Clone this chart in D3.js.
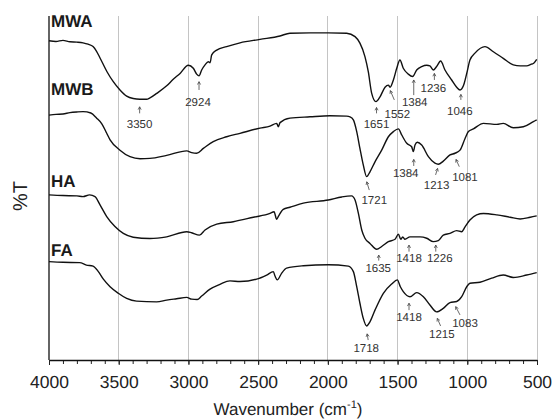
<!DOCTYPE html>
<html>
<head>
<meta charset="utf-8">
<script src="https://cdn.jsdelivr.net/npm/d3@7"></script>
<style>
  html, body { margin: 0; padding: 0; background: #fff; }
  svg { display: block; font-family: "Liberation Sans", Arial, sans-serif; }
  svg text { -webkit-font-smoothing: antialiased; text-rendering: geometricPrecision; }
</style>
</head>
<body>
<svg id="chart" width="553" height="420"></svg>
<script>
// FTIR spectra (offset %T) of four samples
const seriesNames = ["MWA", "MWB", "HA", "FA"];

const mwaWn = [4000,3950,3900,3850,3800,3756,3720,3684,3660,3634,3584,3539,3491,3443,3396,3348,3300,3276,3228,3156,3109,3060,3001,2965,2941,2924,2905,2881,2857,2845,2833,2797,2726,2630,2487,2343,2272,2128,1997,1865,1805,1770,1734,1710,1686,1655,1626,1590,1566,1554,1530,1506,1483,1459,1423,1392,1363,1327,1291,1268,1244,1220,1191,1160,1112,1076,1052,1028,1004,981,945,873,813,742,670,620,574,540,526,502];
const mwaT  = [92.8,92.6,92.9,92.5,92.4,92.2,91.8,91.1,89.8,87.8,83.8,80.9,78.5,76.7,76.0,75.8,75.8,76.2,77.5,79.7,81.6,83.3,85.7,84.8,83.1,82.6,84.3,85.8,86.7,86.4,88.7,90.1,91.1,92.2,93.2,94.2,95.0,95.1,95.1,95.0,94.0,92.1,88.2,83.8,77.6,75.1,76.5,79.3,79.9,79.3,81.4,84.8,87.2,84.8,83.1,82.4,84.3,85.3,85.7,85.5,84.3,85.3,86.9,84.3,81.4,79.3,78.5,79.7,83.3,87.2,89.2,91.1,89.6,87.7,85.8,85.5,85.5,86.0,86.2,87.4];

const mwbWn = [4000,3950,3900,3850,3800,3756,3700,3658,3620,3586,3562,3491,3419,3347,3276,3156,3012,2977,2941,2893,2822,2726,2630,2487,2415,2367,2355,2343,2272,2128,1985,1865,1841,1817,1793,1770,1746,1722,1698,1662,1614,1566,1530,1494,1470,1434,1399,1387,1375,1358,1327,1279,1232,1208,1172,1124,1088,1052,1016,992,956,884,788,742,670,598,526,502];
const mwbT  = [71.2,71.4,71.5,71.9,72.1,72.2,71.8,70.3,68.6,65.9,64.0,61.0,59.1,58.5,58.6,59.5,60.8,60.3,60.1,61.5,63.5,64.9,65.9,67.4,68.0,68.8,67.8,69.0,70.3,70.7,71.0,70.9,70.7,69.8,66.4,61.5,56.7,53.3,54.7,57.6,61.0,64.9,66.4,67.2,65.4,63.0,62.0,60.6,62.5,63.3,62.5,59.1,57.2,56.9,57.8,59.6,60.1,61.0,64.4,66.4,67.2,68.8,68.5,68.8,67.5,67.8,69.3,69.8];

const haWn = [4000,3900,3800,3756,3709,3670,3634,3586,3527,3467,3396,3276,3156,3012,2977,2921,2881,2797,2678,2534,2415,2386,2367,2353,2320,2272,2176,1997,1900,1830,1805,1781,1757,1734,1698,1650,1614,1566,1518,1494,1477,1463,1447,1411,1339,1291,1244,1208,1172,1124,1076,1040,1016,981,933,884,788,693,621,549,502];
const haT  = [48.0,47.8,47.7,47.5,48.0,47.5,45.1,41.7,38.8,36.8,35.7,35.3,35.8,37.3,37.0,36.3,37.8,39.5,40.2,41.5,42.6,43.1,40.9,41.9,43.8,44.4,45.6,46.5,47.4,47.7,46.5,42.6,37.8,35.4,33.9,32.2,33.0,34.4,35.1,36.6,35.1,35.8,35.1,35.8,35.8,35.4,34.4,34.7,36.3,36.8,37.6,37.3,38.7,40.7,42.2,42.6,42.2,41.5,41.0,41.5,41.9];

const faWn = [4000,3900,3780,3732,3684,3646,3610,3562,3503,3443,3372,3228,3156,3085,3012,2977,2937,2905,2845,2774,2702,2630,2511,2439,2391,2379,2363,2332,2296,2176,1997,1853,1817,1793,1770,1746,1722,1698,1662,1602,1542,1502,1480,1459,1411,1363,1315,1268,1220,1172,1124,1076,1040,1004,981,909,825,742,670,574,502];
const faT  = [28.6,28.4,28.3,27.6,27.3,25.7,23.5,21.3,19.4,17.9,17.1,16.9,17.4,17.8,18.2,17.7,17.6,18.6,20.6,22.0,23.0,22.8,23.5,24.7,25.7,24.4,23.3,25.2,26.7,27.4,27.7,27.3,25.7,21.3,16.5,12.1,9.9,11.1,14.5,19.4,22.1,23.3,21.3,19.9,18.4,19.6,18.4,16.0,14.0,15.0,16.7,17.0,18.4,21.3,22.3,22.6,23.8,24.7,24.0,24.7,25.4];

// x-axis ticks (cm-1)
const majorTicks = [4000, 3500, 3000, 2500, 2000, 1500, 1000, 500];
const minorTicks = d3.range(4000, 499, -100);

// sample name labels: %T level of the label baseline
const nameLevels = [96.8, 77.0, 50.3, 30.2];

// peak annotations: wavenumber label, arrow tip / tail level, text level (%T units)
const mwaPeaks = [
  {wn: 3350, tip: 73.6, tail: 71.7, text: 67.5, lean: 0, dx: 0},
  {wn: 2924, tip: 80.9, tail: 78.5, text: 73.8, lean: 0, dx: -1},
  {wn: 1651, tip: 73.4, tail: 71.7, text: 67.4, lean: 0, dx: 0},
  {wn: 1552, tip: 78.3, tail: 75.6, text: 70.3, lean: 4, dx: 7},
  {wn: 1384, tip: 81.4, tail: 77.0, text: 73.8, lean: 0, dx: 1},
  {wn: 1236, tip: 83.3, tail: 81.4, text: 78.0, lean: 0, dx: -1},
  {wn: 1046, tip: 77.2, tail: 75.6, text: 71.2, lean: 0, dx: -1}
];
const mwbPeaks = [
  {wn: 1721, tip: 51.8, tail: 49.4, text: 45.3, lean: 2.5, dx: 7.5},
  {wn: 1384, tip: 58.3, tail: 56.4, text: 53.1, lean: 0, dx: -8},
  {wn: 1213, tip: 55.7, tail: 53.8, text: 49.6, lean: -2, dx: -1},
  {wn: 1081, tip: 58.3, tail: 56.2, text: 52.1, lean: 3.3, dx: 9}
];
const haPeaks = [
  {wn: 1635, tip: 30.5, tail: 28.9, text: 25.6, lean: 0, dx: -0.5},
  {wn: 1418, tip: 33.4, tail: 31.5, text: 28.6, lean: 0, dx: 0},
  {wn: 1226, tip: 33.4, tail: 31.5, text: 28.6, lean: 0, dx: 4}
];
const faPeaks = [
  {wn: 1718, tip: 7.6, tail: 5.8, text: 2.4, lean: 1, dx: -1},
  {wn: 1418, tip: 16.5, tail: 14.5, text: 11.4, lean: 0, dx: 0},
  {wn: 1215, tip: 12.1, tail: 9.9, text: 6.3, lean: 3.3, dx: 4.5},
  {wn: 1083, tip: 15.5, tail: 13.1, text: 9.7, lean: 4.3, dx: 9.3}
];

const spectra = [
  {wn: mwaWn, t: mwaT},
  {wn: mwbWn, t: mwbT},
  {wn: haWn, t: haT},
  {wn: faWn, t: faT}
];
const peaks = [mwaPeaks, mwbPeaks, haPeaks, faPeaks].flat();

const svg = d3.select("#chart");
const x = d3.scaleLinear().domain([4000, 500]).range([49, 537]);
const y = d3.scaleLinear().domain([0, 100]).range([360, 16]);

// vertical grid lines
svg.append("g")
  .selectAll("line")
  .data(majorTicks.filter(d => d !== 4000))
  .join("line")
  .attr("x1", d => x(d)).attr("x2", d => x(d))
  .attr("y1", y(100)).attr("y2", y(0))
  .attr("stroke", "#c4c4c4")
  .attr("stroke-width", 1)
  .attr("shape-rendering", "crispEdges");

// minor ticks
const axisG = svg.append("g").attr("transform", `translate(0,${y(0)})`);
axisG.append("g")
  .call(d3.axisBottom(x).tickValues(minorTicks).tickSize(4).tickFormat(""))
  .call(g => g.select(".domain").remove())
  .call(g => g.selectAll("line").attr("stroke", "#222"));

// major ticks with labels
axisG.append("g")
  .call(d3.axisBottom(x).tickValues(majorTicks).tickSize(5).tickSizeOuter(0).tickFormat(d3.format("d")))
  .call(g => g.select(".domain").attr("stroke", "#111").attr("stroke-width", 1.3))
  .call(g => g.selectAll("line").attr("stroke", "#222"))
  .call(g => g.selectAll("text")
      .attr("y", 28).attr("dy", 0)
      .attr("font-size", 17.5)
      .attr("font-family", "'Liberation Sans', Arial, sans-serif")
      .attr("fill", "#222"));

// left axis line
svg.append("line")
  .attr("x1", x(4000)).attr("x2", x(4000))
  .attr("y1", y(100)).attr("y2", y(0))
  .attr("stroke", "#111").attr("stroke-width", 1.3);

// spectra
const line = d3.line()
  .x(d => x(d[0]))
  .y(d => y(d[1]))
  .curve(d3.curveMonotoneX);

svg.append("g")
  .selectAll("path")
  .data(spectra)
  .join("path")
  .attr("d", s => line(s.wn.map((w, i) => [w, s.t[i]])))
  .attr("fill", "none")
  .attr("stroke", "#111")
  .attr("stroke-width", 1.4)
  .attr("stroke-linejoin", "round");

// sample names
svg.append("g")
  .selectAll("text")
  .data(seriesNames)
  .join("text")
  .attr("x", x(4000) + 2)
  .attr("y", (d, i) => y(nameLevels[i]))
  .attr("font-size", 17)
  .attr("font-weight", "bold")
  .attr("fill", "#1a1a1a")
  .text(d => d);

// peak arrows and labels
const pg = svg.append("g")
  .selectAll("g")
  .data(peaks)
  .join("g");

pg.append("path")
  .attr("d", p => {
    const x1 = x(p.wn), y1 = y(p.tip);
    const x2 = x1 + p.lean, y2 = y(p.tail);
    const ang = Math.atan2(y2 - y1, x2 - x1);
    const h = 3.2, a = 0.5;
    const ax1 = x1 + h * Math.cos(ang + a), ay1 = y1 + h * Math.sin(ang + a);
    const ax2 = x1 + h * Math.cos(ang - a), ay2 = y1 + h * Math.sin(ang - a);
    return `M${x2},${y2}L${x1},${y1}M${ax1},${ay1}L${x1},${y1}L${ax2},${ay2}`;
  })
  .attr("fill", "none")
  .attr("stroke", "#444")
  .attr("stroke-width", 0.8);

pg.append("text")
  .attr("x", p => x(p.wn) + p.dx)
  .attr("y", p => y(p.text))
  .attr("text-anchor", "middle")
  .attr("font-size", 11.5)
  .attr("fill", "#333")
  .text(p => p.wn);

// axis titles
const xt = svg.append("text")
  .attr("x", 288).attr("y", 415)
  .attr("text-anchor", "middle")
  .attr("font-size", 17)
  .attr("fill", "#222");
xt.append("tspan").text("Wavenumber (cm");
xt.append("tspan").attr("dy", -7).attr("font-size", 11).text("-1");
xt.append("tspan").attr("dy", 7).text(")");

svg.append("text")
  .attr("transform", `translate(27,${y(47.7)}) rotate(-90)`)
  .attr("text-anchor", "middle")
  .attr("font-size", 20)
  .attr("fill", "#222")
  .text("%T");
</script>
</body>
</html>
